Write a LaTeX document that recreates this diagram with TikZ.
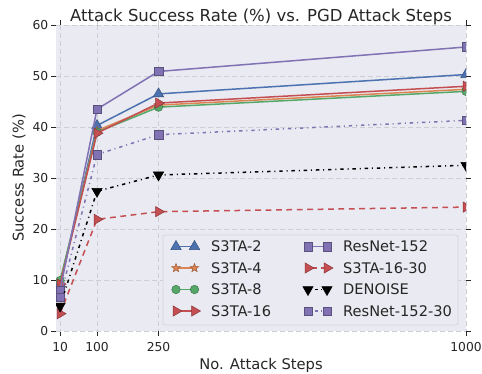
\documentclass[tikz,border=0pt]{standalone}
\usepackage{fontspec}
\setmainfont{DejaVu Sans}
\usetikzlibrary{shapes.geometric}
\definecolor{bgc}{HTML}{EAEAF2}
\definecolor{gridc}{HTML}{CDCDD4}
\definecolor{txt}{HTML}{262626}
\definecolor{cblue}{HTML}{4C72B0}
\definecolor{corange}{HTML}{DD8452}
\definecolor{cgreen}{HTML}{55A868}
\definecolor{cred}{HTML}{C44E52}
\definecolor{cpurple}{HTML}{8172B3}
\definecolor{cblack}{HTML}{000000}
\tikzset{
  ln/.style={line width=1.5pt, line join=round, draw=#1},
  dashln/.style={ln=#1, dash pattern=on 5.8pt off 4.6pt},
  dotln/.style={ln=#1, dash pattern=on 3.4pt off 3.9pt on 1pt off 3.9pt},
  mk/.style={inner sep=0pt, outer sep=0pt, fill=#1, draw=#1!70!black, line width=0.5pt},
  mtriup/.style={mk=#1, regular polygon, regular polygon sides=3, minimum size=12pt},
  mtriright/.style={mtriup=#1, shape border rotate=-90},
  mtridown/.style={mtriup=#1, shape border rotate=180},
  msq/.style={mk=#1, rectangle, minimum size=8.5pt},
  mcirc/.style={mk=#1, circle, minimum size=8.5pt},
  mstar/.style={mk=#1, star, star points=5, star point ratio=2.4, minimum size=9pt},
  gridln/.style={draw=gridc, line width=0.8pt, dash pattern=on 5pt off 3pt},
  tickln/.style={draw=txt, line width=0.8pt},
  ticklab/.style={inner sep=0pt, text=txt, font=\fontsize{12.3}{14}\selectfont},
  legtxt/.style={inner sep=0pt, text=txt, anchor=base west, font=\fontsize{14.6}{17}\selectfont},
  lbl/.style={inner sep=0pt, text=txt, font=\fontsize{14.7}{17}\selectfont},
}
\begin{document}
\begin{tikzpicture}[x=1pt, y=-1pt]
\useasboundingbox (0,0) rectangle (482,373);
\fill[white] (0,0) rectangle (482,373);
% axes background
\fill[bgc] (56,25) rectangle (466,331);
% grid and ticks
\foreach \v in {10,100,250,1000} {
  \draw[gridln] ({56+0.41*\v},25) -- ({56+0.41*\v},331);
  \draw[tickln] ({56+0.41*\v},331) -- ({56+0.41*\v},336);
  \node[ticklab, anchor=base] (xt\v) at ({56+0.41*\v},351.5) {\v};
}
\foreach \v in {10,1000} \draw[tickln] ({56+0.41*\v},20) -- ({56+0.41*\v},25);
\foreach \v in {100,250} \draw[gridln] ({56+0.41*\v},20) -- ({56+0.41*\v},25);
\foreach \w in {0,10,...,60} {
  \draw[gridln] (56,{331-5.1*\w}) -- (466,{331-5.1*\w});
  \draw[tickln] (51,{331-5.1*\w}) -- (56,{331-5.1*\w});
  \draw[tickln] (466,{331-5.1*\w}) -- (471,{331-5.1*\w});
  \node[ticklab, anchor=base east] (yt\w) at (48.5,{331-5.1*\w+4.5}) {\w};
}
% data
\begin{scope}
\clip (56,25) rectangle (466,331);
\begin{scope}[shift={(56,331)}, xscale=0.41, yscale=-5.1]
  % S3TA-2
  \coordinate (a1) at (10,9.3); \coordinate (a2) at (100,40.3); \coordinate (a3) at (250,46.5); \coordinate (a4) at (1000,50.3);
  \draw[ln=cblue] (a1) -- (a2) -- (a3) -- (a4);
  \foreach \i in {1,...,4} \node[mtriup=cblue] (am\i) at (a\i) {};
  % S3TA-4
  \coordinate (b1) at (10,9.6); \coordinate (b2) at (100,39.3); \coordinate (b3) at (250,44.3); \coordinate (b4) at (1000,47.4);
  \draw[ln=corange] (b1) -- (b2) -- (b3) -- (b4);
  \foreach \i in {1,...,4} \node[mstar=corange] (bm\i) at (b\i) {};
  % S3TA-8
  \coordinate (c1) at (10,9.9); \coordinate (c2) at (100,39.0); \coordinate (c3) at (250,43.9); \coordinate (c4) at (1000,47.0);
  \draw[ln=cgreen] (c1) -- (c2) -- (c3) -- (c4);
  \foreach \i in {1,...,4} \node[mcirc=cgreen] (cm\i) at (c\i) {};
  % S3TA-16
  \coordinate (d1) at (10,9.2); \coordinate (d2) at (100,38.8); \coordinate (d3) at (250,44.7); \coordinate (d4) at (1000,48.0);
  \draw[ln=cred] (d1) -- (d2) -- (d3) -- (d4);
  \foreach \i in {1,...,4} \node[mtriright=cred] (dm\i) at (d\i) {};
  % ResNet-152
  \coordinate (e1) at (10,8.0); \coordinate (e2) at (100,43.5); \coordinate (e3) at (250,50.9); \coordinate (e4) at (1000,55.7);
  \draw[ln=cpurple] (e1) -- (e2) -- (e3) -- (e4);
  \foreach \i in {1,...,4} \node[msq=cpurple] (em\i) at (e\i) {};
  % S3TA-16-30
  \coordinate (f1) at (10,3.4); \coordinate (f2) at (100,21.9); \coordinate (f3) at (250,23.4); \coordinate (f4) at (1000,24.3);
  \draw[dashln=cred] (f1) -- (f2) -- (f3) -- (f4);
  \foreach \i in {1,...,4} \node[mtriright=cred] (fm\i) at (f\i) {};
  % DENOISE
  \coordinate (g1) at (10,4.9); \coordinate (g2) at (100,27.4); \coordinate (g3) at (250,30.6); \coordinate (g4) at (1000,32.5);
  \draw[dotln=cblack] (g1) -- (g2) -- (g3) -- (g4);
  \foreach \i in {1,...,4} \node[mtridown=cblack] (gm\i) at (g\i) {};
  % ResNet-152-30
  \coordinate (h1) at (10,6.6); \coordinate (h2) at (100,34.6); \coordinate (h3) at (250,38.5); \coordinate (h4) at (1000,41.3);
  \draw[dotln=cpurple] (h1) -- (h2) -- (h3) -- (h4);
  \foreach \i in {1,...,4} \node[msq=cpurple] (hm\i) at (h\i) {};
\end{scope}
\end{scope}
% legend
\draw[fill=bgc, draw={rgb,255:red,214;green,214;blue,222}, line width=0.9pt, rounded corners=2pt] (163,235) rectangle (458,325);
% column 1
\coordinate (la1) at (176,246.5); \coordinate (la2) at (194.5,246.5);
\draw[ln=cblue] (la1) -- (la2);
\node[mtriup=cblue] (lam1) at (la1) {}; \node[mtriup=cblue] (lam2) at (la2) {};
\node[legtxt] (lat) at (211,251.8) {S3TA-2};
\coordinate (lb1) at (176,268); \coordinate (lb2) at (194.5,268);
\draw[ln=corange] (lb1) -- (lb2);
\node[mstar=corange] (lbm1) at (lb1) {}; \node[mstar=corange] (lbm2) at (lb2) {};
\node[legtxt] (lbt) at (211,273.3) {S3TA-4};
\coordinate (lc1) at (176,289.5); \coordinate (lc2) at (194.5,289.5);
\draw[ln=cgreen] (lc1) -- (lc2);
\node[mcirc=cgreen] (lcm1) at (lc1) {}; \node[mcirc=cgreen] (lcm2) at (lc2) {};
\node[legtxt] (lct) at (211,294.8) {S3TA-8};
\coordinate (ld1) at (176,311); \coordinate (ld2) at (194.5,311);
\draw[ln=cred] (ld1) -- (ld2);
\node[mtriright=cred] (ldm1) at (ld1) {}; \node[mtriright=cred] (ldm2) at (ld2) {};
\node[legtxt] (ldt) at (211,316.3) {S3TA-16};
% column 2
\coordinate (le1) at (308,246.5); \coordinate (le2) at (327,246.5);
\draw[ln=cpurple] (le1) -- (le2);
\node[msq=cpurple] (lem1) at (le1) {}; \node[msq=cpurple] (lem2) at (le2) {};
\node[legtxt] (let) at (343,251.8) {ResNet-152};
\coordinate (lf1) at (308,268); \coordinate (lf2) at (327,268);
\draw[ln=cred, dash pattern=on 5pt off 3.5pt, dash phase=-4pt] (lf1) -- (lf2);
\node[mtriright=cred] (lfm1) at (lf1) {}; \node[mtriright=cred] (lfm2) at (lf2) {};
\node[legtxt] (lft) at (343,273.3) {S3TA-16-30};
\coordinate (lg1) at (308,289.5); \coordinate (lg2) at (327,289.5);
\draw[ln=cblack, dash pattern=on 1pt off 3.5pt on 3.4pt off 3.5pt, dash phase=-2pt] (lg1) -- (lg2);
\node[mtridown=cblack] (lgm1) at (lg1) {}; \node[mtridown=cblack] (lgm2) at (lg2) {};
\node[legtxt] (lgt) at (343,294.8) {DENOISE};
\coordinate (lh1) at (308,311); \coordinate (lh2) at (327,311);
\draw[ln=cpurple, dash pattern=on 1pt off 3.5pt on 3.4pt off 3.5pt, dash phase=-2pt] (lh1) -- (lh2);
\node[msq=cpurple] (lhm1) at (lh1) {}; \node[msq=cpurple] (lhm2) at (lh2) {};
\node[legtxt] (lht) at (343,316.3) {ResNet-152-30};
% titles
\node[inner sep=0pt, text=txt, anchor=base, font=\fontsize{16.5}{19}\selectfont] (title) at (261,21.5) {Attack Success Rate (\%) vs. PGD Attack Steps};
\node[lbl, anchor=base] (xlab) at (261,369) {No. Attack Steps};
\node[lbl, anchor=base, rotate=90] (ylab) at (23.5,178) {Success Rate (\%)};
\end{tikzpicture}
\end{document}
